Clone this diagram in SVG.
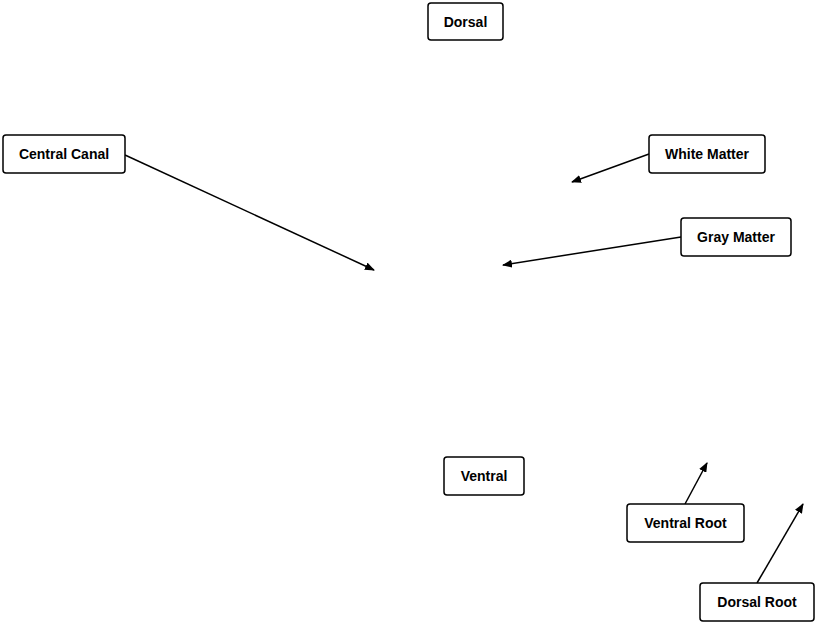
<svg xmlns="http://www.w3.org/2000/svg" width="815" height="622" viewBox="0 0 815 622">
<style>
.b{fill:#fff;stroke:#000;stroke-width:1.5}
.t{font-family:"Liberation Sans",Arial,sans-serif;font-weight:bold;font-size:14px;text-anchor:middle;dominant-baseline:central}
.c{stroke:#000;stroke-width:1.5;fill:none;marker-end:url(#a)}
</style>
<defs><marker id="a" markerWidth="10" markerHeight="8" refX="9" refY="4" orient="auto" markerUnits="userSpaceOnUse"><path d="M0,0 L10,4 L0,8 z" fill="#000"/></marker></defs>
<g id="connectors">
<line class="c" x1="125" y1="155" x2="374" y2="270"/>
<line class="c" x1="649" y1="154" x2="572" y2="182"/>
<line class="c" x1="681" y1="237" x2="503" y2="265"/>
<line class="c" x1="685" y1="504" x2="707" y2="463"/>
<line class="c" x1="757" y1="583" x2="803" y2="504"/>
</g>
<g id="dorsal"><rect class="b" x="428" y="3" width="75" height="37" rx="3"/><text class="t" x="465.5" y="21.5">Dorsal</text></g>
<g id="central-canal"><rect class="b" x="3" y="135" width="122" height="38" rx="3"/><text class="t" x="64" y="154">Central Canal</text></g>
<g id="white-matter"><rect class="b" x="649" y="135" width="116" height="38" rx="3"/><text class="t" x="707" y="154">White Matter</text></g>
<g id="gray-matter"><rect class="b" x="681" y="218" width="110" height="38" rx="3"/><text class="t" x="736" y="237">Gray Matter</text></g>
<g id="ventral"><rect class="b" x="444" y="457" width="80" height="38" rx="3"/><text class="t" x="484" y="476">Ventral</text></g>
<g id="ventral-root"><rect class="b" x="627" y="504" width="117" height="38" rx="3"/><text class="t" x="685.5" y="523">Ventral Root</text></g>
<g id="dorsal-root"><rect class="b" x="700" y="583" width="114" height="38" rx="3"/><text class="t" x="757" y="602">Dorsal Root</text></g>
</svg>
